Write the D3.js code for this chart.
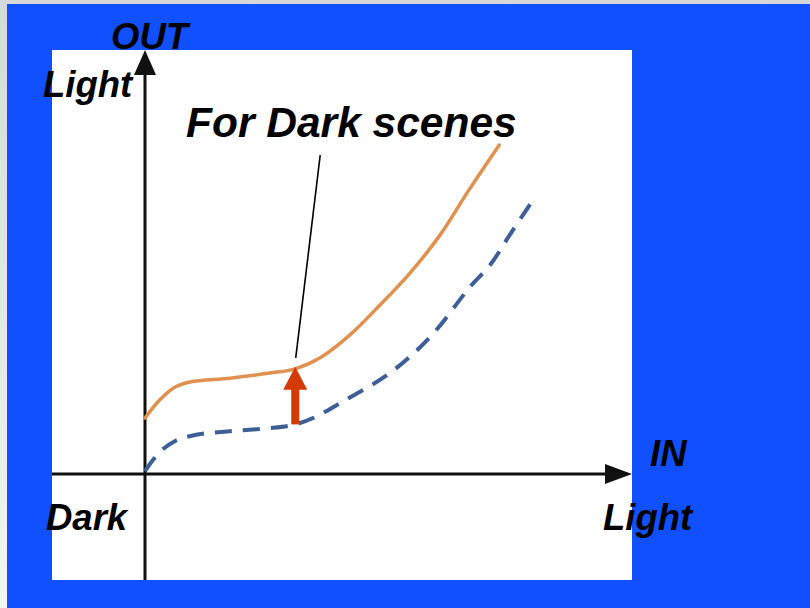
<!DOCTYPE html>
<html>
<head>
<meta charset="utf-8">
<script src="https://cdn.jsdelivr.net/npm/d3@7"></script>
<style>
  html, body { margin: 0; padding: 0; background: #dcdde0; }
  svg { display: block; }
  text { font-family: "Liberation Sans", Arial, sans-serif; font-weight: bold; font-style: italic; fill: #000; }
</style>
</head>
<body>
<script>
// Input level (0-100) for each sampled point of the tone curves
const brightIn = [0, 3.1, 6.3, 9.4, 17.7, 26, 31.3, 36.5, 42.7, 49, 55.2, 61.5, 67.1, 73.8];
// Output of the boosted curve used for dark scenes
const brightOut = [13.2, 17.5, 20.5, 21.7, 22.6, 23.8, 24.8, 27.4, 32.8, 39.9, 47.4, 56.4, 66.3, 77.6];

const normalIn = [0, 3.1, 6.3, 10.4, 17.7, 26, 31.3, 35.4, 40.6, 51, 59.4, 67.7, 71.9, 76, 80.6];
// Output of the standard curve (dashed)
const normalOut = [0.7, 5.2, 7.8, 9.2, 10.1, 10.8, 11.7, 13.4, 16.7, 23.8, 32.3, 44.1, 49.3, 56.4, 64.2];

// The lift arrow sits at this input level, between the two curves
const liftIn = 31.3;
const liftFrom = 11.7;
const liftTo = 24.8;

// Callout text and where its leader line starts
const calloutText = "For Dark scenes";
const calloutAnchor = [36.5, 75.2];

const axisLabels = { outTop: "OUT", yHigh: "Light", xName: "IN", xHigh: "Light", low: "Dark" };

const W = 810, H = 608;
const svg = d3.select("body").append("svg").attr("width", W).attr("height", H);

// Light grey frame fading towards the bottom
const defs = svg.append("defs");
const grad = defs.append("linearGradient").attr("id", "frame").attr("x1", 0).attr("y1", 0).attr("x2", 0).attr("y2", 1);
grad.append("stop").attr("offset", 0).attr("stop-color", "#d6d8dc");
grad.append("stop").attr("offset", 1).attr("stop-color", "#f4f4f4");
svg.append("rect").attr("width", W).attr("height", H).attr("fill", "url(#frame)");

// Blue slide background and white plotting panel
svg.append("rect").attr("x", 7).attr("y", 4).attr("width", W - 7).attr("height", H - 4).attr("fill", "#1150fe");
const panel = { x0: 52, y0: 50, x1: 632, y1: 580 };
svg.append("rect").attr("x", panel.x0).attr("y", panel.y0)
  .attr("width", panel.x1 - panel.x0).attr("height", panel.y1 - panel.y0).attr("fill", "#ffffff");

const x = d3.scaleLinear().domain([0, 100]).range([145, 625]);
const y = d3.scaleLinear().domain([0, 100]).range([474, 50]);

// Axes: two arrows crossing at the origin
const axisColor = "#111";
svg.append("line").attr("x1", x(0)).attr("x2", x(0)).attr("y1", panel.y1).attr("y2", y(100) + 20)
  .attr("stroke", axisColor).attr("stroke-width", 3);
svg.append("path")
  .attr("d", `M${x(0)},${y(100)} L${x(0) - 11},${y(100) + 25} L${x(0) + 11},${y(100) + 25} Z`)
  .attr("fill", axisColor);
const xEnd = panel.x1;
svg.append("line").attr("x1", panel.x0).attr("x2", xEnd - 20).attr("y1", y(0)).attr("y2", y(0))
  .attr("stroke", axisColor).attr("stroke-width", 3);
svg.append("path")
  .attr("d", `M${xEnd},${y(0)} L${xEnd - 27},${y(0) - 10} L${xEnd - 27},${y(0) + 10} Z`)
  .attr("fill", axisColor);

const line = d3.line().x(d => x(d[0])).y(d => y(d[1])).curve(d3.curveCatmullRom.alpha(0.5));

// Standard tone curve (dashed)
svg.append("path")
  .datum(d3.zip(normalIn, normalOut))
  .attr("d", line)
  .attr("fill", "none")
  .attr("stroke", "#3d5f96")
  .attr("stroke-width", 4)
  .attr("stroke-dasharray", "17,11")
  .attr("stroke-linecap", "butt");

// Boosted tone curve for dark scenes
svg.append("path")
  .datum(d3.zip(brightIn, brightOut))
  .attr("d", line)
  .attr("fill", "none")
  .attr("stroke", "#e0914f")
  .attr("stroke-width", 3.5)
  .attr("stroke-linecap", "round");

// Lift arrow between the curves
const ax = x(liftIn), ay0 = y(liftFrom), ay1 = y(liftTo);
svg.append("rect").attr("x", ax - 4).attr("y", ay1 + 20).attr("width", 8).attr("height", ay0 - ay1 - 20)
  .attr("fill", "#d33a06");
svg.append("path")
  .attr("d", `M${ax},${ay1 - 2} L${ax - 12},${ay1 + 21} L${ax + 12},${ay1 + 21} Z`)
  .attr("fill", "#d33a06");

// Callout leader line and text
svg.append("line")
  .attr("x1", x(calloutAnchor[0])).attr("y1", y(calloutAnchor[1]))
  .attr("x2", x(liftIn) + 0.5).attr("y2", y(liftTo) - 11)
  .attr("stroke", "#000").attr("stroke-width", 1.6);
svg.append("text").attr("x", 186).attr("y", 137).attr("font-size", 42.5).text(calloutText);

// Axis labels
const lbl = (t, px, py) => svg.append("text").attr("x", px).attr("y", py).attr("font-size", 36.5).text(t);
lbl(axisLabels.outTop, 111, 49);
lbl(axisLabels.yHigh, 43, 97);
lbl(axisLabels.xName, 650, 466);
lbl(axisLabels.xHigh, 603, 530);
lbl(axisLabels.low, 46, 530);
</script>
</body>
</html>
